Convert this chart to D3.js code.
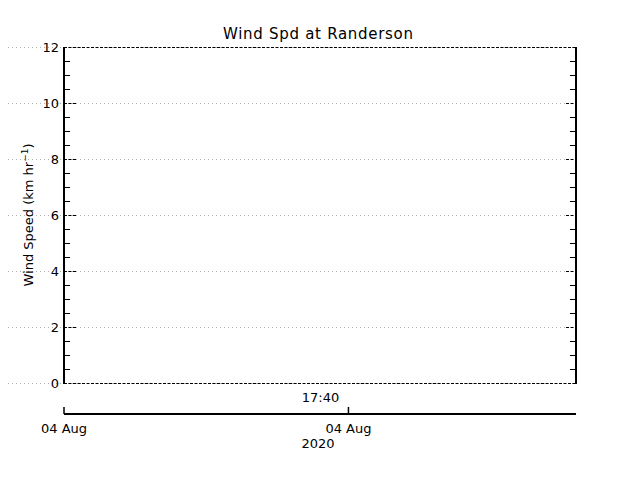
<!DOCTYPE html>
<html>
<head>
<meta charset="utf-8">
<script src="https://cdn.jsdelivr.net/npm/d3@7"></script>
<style>
  body { margin: 0; background: #fff; }
  text { font-family: "DejaVu Sans", sans-serif; fill: #000; }
</style>
</head>
<body>
<svg id="chart" width="640" height="480"></svg>
<script>
// chart data (the station reported no values in this window)
const obsTimes = [];
const windSpeed = [];

// y axis ticks
const yMajor = [0, 2, 4, 6, 8, 10, 12];
const yMinorStep = 0.5;

// time axis: domain and labelled tick
const timeDomain = [new Date(2020, 7, 4, 17, 30), new Date(2020, 7, 4, 17, 48)];
const timeTicks = [new Date(2020, 7, 4, 17, 40)];
const timeLabel = "17:40";
const dayLabel = "04 Aug";
const yearLabel = "2020";

// plot frame
const plotLeft = 64, plotRight = 576, plotTop = 47, plotBottom = 383;
const timeAxisY = 414;

const svg = d3.select("#chart");

const x = d3.scaleTime().domain(timeDomain).range([plotLeft, plotRight]);
const y = d3.scaleLinear().domain([0, 12]).range([plotBottom, plotTop]);

// dotted grid lines, reaching out past the left axis
svg.append("g")
  .selectAll("line")
  .data(yMajor)
  .join("line")
    .attr("x1", 8).attr("x2", plotRight)
    .attr("y1", d => y(d) + 0.5).attr("y2", d => y(d) + 0.5)
    .attr("stroke", "#b0b0b0")
    .attr("stroke-width", 1)
    .attr("stroke-dasharray", "1,3");

// tick labels
svg.append("g")
  .selectAll("text")
  .data(yMajor)
  .join("text")
    .attr("x", 59)
    .attr("y", d => y(d) + 5)
    .attr("text-anchor", "end")
    .attr("font-size", 13)
    .text(d => d);

// top and bottom frame (dashed)
svg.append("g")
  .selectAll("line")
  .data([0, 12])
  .join("line")
    .attr("x1", plotLeft).attr("x2", plotRight)
    .attr("y1", d => y(d) + 0.5).attr("y2", d => y(d) + 0.5)
    .attr("stroke", "#000")
    .attr("stroke-dasharray", "3,1.5");

// minor ticks on both sides
const minor = d3.range(0, 12 + 1e-6, yMinorStep).filter(v => v % 2 !== 0);
const ticks = svg.append("g").attr("stroke", "#000");
ticks.selectAll(".minL")
  .data(minor)
  .join("line")
    .attr("x1", plotLeft).attr("x2", plotLeft + 6)
    .attr("y1", d => y(d) + 0.5).attr("y2", d => y(d) + 0.5);
ticks.selectAll(".minR")
  .data(minor)
  .join("line")
    .attr("x1", plotRight - 6).attr("x2", plotRight)
    .attr("y1", d => y(d) + 0.5).attr("y2", d => y(d) + 0.5);

// major ticks (dashed)
const major = yMajor.filter(v => v > 0 && v < 12);
ticks.selectAll(".majL")
  .data(major)
  .join("line")
    .attr("x1", plotLeft).attr("x2", plotLeft + 12)
    .attr("y1", d => y(d) + 0.5).attr("y2", d => y(d) + 0.5)
    .attr("stroke-dasharray", "3,1.5");
ticks.selectAll(".majR")
  .data(major)
  .join("line")
    .attr("x1", plotRight - 10).attr("x2", plotRight)
    .attr("y1", d => y(d) + 0.5).attr("y2", d => y(d) + 0.5)
    .attr("stroke-dasharray", "3,1.5");

// left and right axis lines
svg.append("g")
  .selectAll("line")
  .data([plotLeft, plotRight])
  .join("line")
    .attr("x1", d => d).attr("x2", d => d)
    .attr("y1", plotTop).attr("y2", plotBottom + 1)
    .attr("stroke", "#000")
    .attr("stroke-width", 2);

// data line (empty)
svg.append("path")
  .datum(obsTimes.map((t, i) => [t, windSpeed[i]]))
  .attr("fill", "none")
  .attr("stroke", "#000")
  .attr("d", d3.line().x(d => x(d[0])).y(d => y(d[1])));

// time axis below the plot
const tAxis = svg.append("g");
tAxis.append("line")
  .attr("x1", plotLeft).attr("x2", plotRight)
  .attr("y1", timeAxisY).attr("y2", timeAxisY)
  .attr("stroke", "#000").attr("stroke-width", 2);
tAxis.selectAll(".tk")
  .data([timeDomain[0], ...timeTicks])
  .join("line")
    .attr("x1", d => x(d)).attr("x2", d => x(d))
    .attr("y1", timeAxisY - 7).attr("y2", timeAxisY)
    .attr("stroke", "#000").attr("stroke-width", 1.5);

tAxis.selectAll(".tl")
  .data(timeTicks)
  .join("text")
    .attr("x", d => x(d) - 28)
    .attr("y", 402)
    .attr("text-anchor", "middle")
    .attr("font-size", 13)
    .text(timeLabel);

tAxis.selectAll(".dl")
  .data([timeDomain[0], ...timeTicks])
  .join("text")
    .attr("x", d => x(d))
    .attr("y", 433)
    .attr("text-anchor", "middle")
    .attr("font-size", 13)
    .text(dayLabel);

tAxis.append("text")
  .attr("x", 318)
  .attr("y", 448)
  .attr("text-anchor", "middle")
  .attr("font-size", 13)
  .text(yearLabel);

// title
svg.append("text")
  .attr("x", 318)
  .attr("y", 39)
  .attr("text-anchor", "middle")
  .attr("font-size", 15)
  .attr("textLength", 190)
  .text("Wind Spd at Randerson");

// y label with superscript
const yl = svg.append("text")
  .attr("transform", `translate(33,215) rotate(-90)`)
  .attr("text-anchor", "middle")
  .attr("font-size", 13);
yl.append("tspan").text("Wind Speed (km hr");
yl.append("tspan").attr("font-size", 9).attr("dy", -5).text("−1");
yl.append("tspan").attr("dy", 5).text(")");
</script>
</body>
</html>
